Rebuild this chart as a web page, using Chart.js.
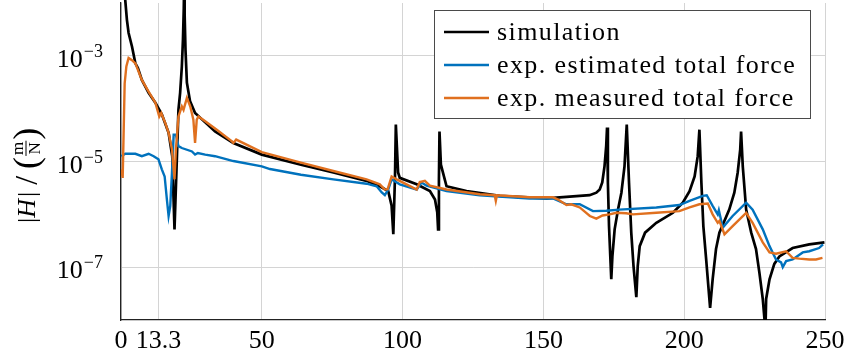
<!DOCTYPE html>
<html>
<head>
<meta charset="utf-8">
<script src="https://cdn.jsdelivr.net/npm/chart.js@4.4.1/dist/chart.umd.min.js"></script>
<style>
  html, body { margin: 0; padding: 0; background: #fff; }
  #frf { display: block; }
</style>
</head>
<body>
<canvas id="frf" width="845" height="355"></canvas>
<script>
// frequency axis (Hz) and magnitude |H| (m/N)
const simFreq = [0.8, 1.5, 2.1, 2.7, 3.9, 5.1, 6.0, 7.4, 9.8, 12.2, 14.5, 16.9, 18.2, 19.0, 19.8, 20.4, 21.0, 21.6, 22.0, 22.3,
    22.45, 22.6, 22.9, 23.4, 24.5, 26.3, 29.9, 33.4, 39.9, 50, 63.9, 75.4, 87.2, 91.9, 94.9, 96.1, 96.7, 97.3, 97.6, 98.4,
    99.0, 105.0, 109.7, 111.5, 112.3, 112.6, 112.9, 113.1, 113.6, 115.6, 122.7, 134.5, 151.1, 162.9, 166.4, 168.8, 170.0, 170.9, 171.7, 172.3,
    172.6, 172.9, 173.3, 173.8, 174.1, 174.5, 175.3, 176.5, 177.7, 178.8, 179.6, 180.4, 181.2, 182.0, 183.0, 183.5, 184.2, 186.1, 190.1, 196.0,
    199.5, 201.9, 203.7, 204.8, 205.4, 206.1, 206.8, 207.8, 209.2, 210.1, 211.3, 212.5, 216.0, 217.8, 219.0, 219.9, 220.2, 220.8, 222.0, 223.8,
    225.5, 226.7, 227.9, 228.5, 228.8, 229.1, 230.3, 232.0, 233.8, 238.5, 244.4, 249.8];
const simMag = [2e-2, 1.15e-2, 4.8e-3, 2.7e-3, 1.5e-3, 7.2e-4, 5.9e-4, 3.5e-4, 2.0e-4, 1.3e-4, 7.8e-5, 3.5e-5, 1.26e-5, 5.2e-7, 1e-5, 9.5e-5, 2.0e-4, 6.2e-4, 2.0e-3, 8e-3,
    3e-2, 6e-3, 1.3e-3, 3.1e-4, 1.4e-4, 8.3e-5, 5.5e-5, 3.7e-5, 2.24e-5, 1.35e-5, 8.7e-6, 6.2e-6, 4.3e-6, 3.4e-6, 2.75e-6, 1.45e-6, 4.2e-7, 5.2e-6, 5.0e-5, 6.2e-6,
    4.9e-6, 3.7e-6, 2.75e-6, 1.9e-6, 1.1e-6, 5.2e-7, 4.6e-6, 3.7e-5, 8.7e-6, 3.4e-6, 2.75e-6, 2.24e-6, 2.0e-6, 2.24e-6, 2.3e-6, 2.57e-6, 2.95e-6, 4.0e-6, 8.1e-6, 1.95e-5,
    4.4e-5, 4.0e-6, 6.0e-7, 1.4e-7, 5.9e-8, 1.6e-7, 5.2e-7, 1.23e-6, 2.57e-6, 8.1e-6, 5.0e-5, 4.0e-6, 4.5e-7, 1.05e-7, 2.7e-8, 1.05e-7, 2.5e-7, 4.5e-7, 6.9e-7, 1.07e-6,
    1.66e-6, 2.75e-6, 5.2e-6, 1.26e-5, 4.0e-5, 4.0e-6, 6.0e-7, 1.4e-7, 1.7e-8, 5.9e-8, 2.2e-7, 4.5e-7, 1.23e-6, 2.57e-6, 6.2e-6, 1.7e-5, 3.7e-5, 8.1e-6, 1.23e-6, 4.5e-7,
    2.2e-7, 7.9e-8, 2.5e-8, 1.05e-8, 5e-9, 2.5e-8, 5.9e-8, 1.15e-7, 1.6e-7, 2.3e-7, 2.7e-7, 2.95e-7];

const estFreq = [0.1, 1.5, 5.1, 7.4, 9.8, 11.6, 13.3, 14.5, 15.5, 16.3, 16.9, 17.5, 18.1, 18.7, 19.5, 20.4, 21.6, 25.2, 26.3, 27.3,
    29.9, 33.4, 39.9, 50, 52.9, 63.9, 75.4, 87.2, 90.8, 92.6, 93.7, 94.9, 96.1, 99.0, 105.0, 106.7, 108.5, 115.6, 127.4, 145.1,
    153.4, 158.2, 162.9, 167.6, 172.3, 177.0, 190.1, 198.3, 201.9, 206.6, 208.0, 210.1, 211.9, 212.3, 213.7, 217.2, 222.0, 224.3, 227.9, 230.3,
    232.6, 234.4, 235.0, 236.2, 238.5, 242.1, 244.4, 247.9, 249.3];
const estMag = [1.26e-5, 1.4e-5, 1.4e-5, 1.26e-5, 1.4e-5, 1.26e-5, 1.1e-5, 7.1e-6, 5.2e-6, 1.9e-6, 9.3e-7, 1.45e-6, 6.2e-6, 3.2e-5, 3.2e-5, 1.95e-5, 1.8e-5, 1.55e-5, 1.35e-5, 1.45e-5,
    1.35e-5, 1.26e-5, 1.02e-5, 8.1e-6, 7.2e-6, 5.6e-6, 4.6e-6, 3.8e-6, 3.4e-6, 2.6e-6, 2.3e-6, 2.95e-6, 4.6e-6, 3.7e-6, 2.95e-6, 4.0e-6, 3.5e-6, 2.75e-6, 2.3e-6, 2.0e-6,
    2.0e-6, 1.55e-6, 1.55e-6, 1.15e-6, 1.17e-6, 1.23e-6, 1.35e-6, 1.5e-6, 1.8e-6, 2.24e-6, 2.3e-6, 1.45e-6, 1.0e-6, 1.2e-6, 5.6e-7, 9.3e-7, 1.66e-6, 1.23e-6, 5.2e-7, 2.5e-7,
    1.4e-7, 1.23e-7, 1.0e-7, 1.3e-7, 1.4e-7, 1.9e-7, 2.0e-7, 2.3e-7, 2.7e-7];

const measFreq = [0.1, 0.6, 1.3, 1.9, 2.7, 3.9, 5.1, 7.4, 9.8, 12.2, 13.6, 14.3, 15.7, 16.9, 18.1, 19.0, 19.5, 20.4, 21.6, 22.2,
    23.4, 24.6, 25.7, 26.3, 26.9, 27.5, 29.9, 34.0, 39.4, 39.9, 40.9, 50, 63.9, 75.4, 87.2, 91.9, 93.7, 94.7, 96.1, 97.9,
    101.4, 105.0, 106.1, 107.9, 109.7, 115.6, 127.4, 132.7, 133.1, 133.5, 145.1, 153.4, 155.2, 158.2, 159.9, 162.9, 166.5, 168.8, 171.0, 173.5,
    175.9, 179.4, 181.8, 190.1, 198.3, 201.9, 205.4, 208.4, 210.1, 211.9, 212.5, 214.3, 217.2, 222.0, 224.3, 227.9, 230.3, 232.6, 236.2, 238.5,
    240.9, 244.4, 246.8, 249.1];
const measMag = [7.1e-6, 4.9e-6, 3.0e-4, 6.3e-4, 9.1e-4, 8.3e-4, 7.2e-4, 3.5e-4, 2.1e-4, 1.3e-4, 7.1e-5, 8.3e-5, 5.4e-5, 3.5e-5, 1.7e-5, 4.6e-6, 1.7e-5, 7.1e-5, 1.1e-4, 9.5e-5,
    1.6e-4, 1.1e-4, 6.2e-5, 2.24e-5, 6.2e-5, 7.1e-5, 5.8e-5, 4.0e-5, 2.4e-5, 2.24e-5, 2.6e-5, 1.5e-5, 9.5e-6, 6.6e-6, 4.6e-6, 3.7e-6, 2.95e-6, 3.0e-6, 5.2e-6, 4.6e-6,
    3.7e-6, 2.95e-6, 4.1e-6, 4.3e-6, 3.5e-6, 2.95e-6, 2.4e-6, 2.3e-6, 1.8e-6, 2.3e-6, 2.1e-6, 2.1e-6, 1.9e-6, 1.5e-6, 1.55e-6, 1.35e-6, 9.3e-7, 8.3e-7, 9.5e-7, 1.0e-6,
    1.07e-6, 1.05e-6, 1.0e-6, 1.07e-6, 1.15e-6, 1.35e-6, 1.55e-6, 1.6e-6, 1.0e-6, 6.9e-7, 7.5e-7, 4.2e-7, 6.0e-7, 1.07e-6, 6.9e-7, 2.95e-7, 1.9e-7, 1.8e-7, 2.0e-7, 1.5e-7,
    1.45e-7, 1.4e-7, 1.4e-7, 1.5e-7];

const xTicks = [0, 13.3, 50, 100, 150, 200, 250];
const yTicks = [1e-7, 1e-5, 1e-3];
const seriesNames = ['simulation', 'exp. estimated total force', 'exp. measured total force'];
const seriesColors = ['#000000', '#0072BD', '#E0701F'];

const serif = '"Liberation Serif", "DejaVu Serif", serif';

const toPoints = (xs, ys) => xs.map((x, i) => ({ x: x, y: ys[i] }));

const makeSet = (i, xs, ys, width, order) => ({
    label: seriesNames[i],
    data: toPoints(xs, ys),
    borderColor: seriesColors[i],
    borderWidth: width,
    pointRadius: 0,
    tension: 0,
    showLine: true,
    fill: false,
    order: order,
    clip: { left: 0, top: 3, right: 0, bottom: 0 }
});

// y tick labels as 10^n with a real superscript
const yLabels = {
    id: 'yLabels',
    afterDraw(chart) {
        const ctx = chart.ctx;
        const y = chart.scales.y;
        ctx.save();
        ctx.fillStyle = '#000';
        yTicks.forEach(v => {
            const py = y.getPixelForValue(v);
            const exp = '\u2212' + Math.round(-Math.log10(v));
            ctx.font = '18px ' + serif;
            const ew = ctx.measureText(exp).width;
            const right = 103;
            ctx.textAlign = 'left';
            ctx.textBaseline = 'alphabetic';
            ctx.fillText(exp, right - ew, py + 1);
            ctx.font = '26px ' + serif;
            ctx.textAlign = 'right';
            ctx.fillText('10', right - ew - 1, py + 11);
        });
        ctx.restore();
    }
};

// y axis title |H| / (m/N), rotated
const yTitle = {
    id: 'yTitle',
    afterDraw(chart) {
        const ctx = chart.ctx;
        ctx.save();
        ctx.translate(35, 223);
        ctx.rotate(-Math.PI / 2);
        ctx.fillStyle = '#000';
        ctx.textBaseline = 'alphabetic';
        ctx.textAlign = 'left';
        let u = 0;
        ctx.font = '26px ' + serif;
        ctx.fillText('|', u, 0); u += ctx.measureText('|').width;
        ctx.font = 'italic 26px ' + serif;
        ctx.fillText('H', u, 0); u += ctx.measureText('H').width + 2;
        ctx.font = '26px ' + serif;
        ctx.fillText('|', u, 0); u += ctx.measureText('|').width;
        u += 7;
        ctx.font = '32px ' + serif;
        ctx.fillText('/', u, 2); u += ctx.measureText('/').width + 7;
        ctx.font = '36px ' + serif;
        ctx.fillText('(', u, 3); u += ctx.measureText('(').width + 1;
        ctx.font = '17px ' + serif;
        const fw = Math.max(ctx.measureText('m').width, ctx.measureText('N').width);
        ctx.textAlign = 'center';
        ctx.fillText('m', u + fw / 2 + 1, -12);
        ctx.fillText('N', u + fw / 2 + 1, 5);
        ctx.fillRect(u, -9.5, fw + 2, 1);
        u += fw + 3;
        ctx.textAlign = 'left';
        ctx.font = '36px ' + serif;
        ctx.fillText(')', u, 3);
        ctx.restore();
    }
};

// legend box inside the plot, upper right
const boxLegend = {
    id: 'boxLegend',
    afterDraw(chart) {
        const ctx = chart.ctx;
        const left = 434, top = 10, w = 376, h = 108;
        ctx.save();
        ctx.fillStyle = '#fff';
        ctx.fillRect(left, top, w, h);
        ctx.strokeStyle = '#4a4a4a';
        ctx.lineWidth = 1;
        ctx.strokeRect(left + 0.5, top + 0.5, w, h);
        ctx.font = '26px ' + serif;
        ctx.letterSpacing = '1.4px';
        ctx.textAlign = 'left';
        ctx.textBaseline = 'alphabetic';
        seriesNames.forEach((name, i) => {
            const cy = 32 + i * 33;
            ctx.strokeStyle = seriesColors[i];
            ctx.lineWidth = 2.5;
            ctx.beginPath();
            ctx.moveTo(444, cy);
            ctx.lineTo(489, cy);
            ctx.stroke();
            ctx.fillStyle = '#000';
            ctx.fillText(name, 497, cy + 8);
        });
        ctx.restore();
    }
};

new Chart(document.getElementById('frf'), {
    type: 'scatter',
    data: {
        datasets: [
            makeSet(0, simFreq, simMag, 2.7, 2),
            makeSet(1, estFreq, estMag, 2.4, 1),
            makeSet(2, measFreq, measMag, 2.4, 0)
        ]
    },
    options: {
        responsive: false,
        animation: false,
        devicePixelRatio: 1,
        layout: { padding: { top: 3, right: 20, left: 0, bottom: 0 } },
        plugins: {
            legend: { display: false },
            tooltip: { enabled: false }
        },
        scales: {
            x: {
                type: 'linear',
                min: 0,
                max: 250,
                afterBuildTicks: scale => { scale.ticks = xTicks.map(v => ({ value: v })); },
                afterFit: scale => {
                    scale.height = 35;
                    scale.paddingLeft = 0;
                    scale.paddingRight = 0;
                },
                grid: { color: '#d4d4d4', lineWidth: 1, drawTicks: false },
                border: { display: true, color: '#222', width: 1.3 },
                ticks: {
                    autoSkip: false,
                    maxRotation: 0,
                    padding: 6,
                    color: '#000',
                    font: { family: serif, size: 26 },
                    callback: v => String(v)
                }
            },
            y: {
                type: 'logarithmic',
                min: 1e-8,
                max: 1e-2,
                afterBuildTicks: scale => { scale.ticks = yTicks.map(v => ({ value: v })); },
                afterFit: scale => {
                    scale.width = 121;
                    scale.paddingTop = 0;
                    scale.paddingBottom = 0;
                },
                grid: { color: '#d4d4d4', lineWidth: 1, drawTicks: false },
                border: { display: true, color: '#222', width: 1.3 },
                ticks: { display: false }
            }
        }
    },
    plugins: [yLabels, yTitle, boxLegend]
});
</script>
</body>
</html>
